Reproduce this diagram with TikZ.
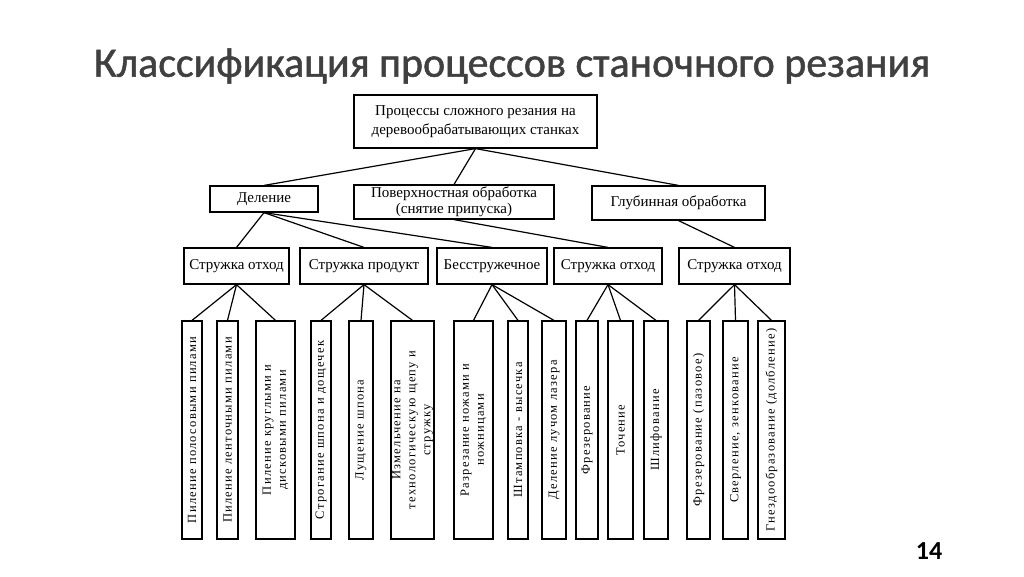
\documentclass[tikz,border=0pt]{standalone}
\usepackage{fontspec}
\setmainfont{Liberation Serif}
\newfontfamily\titlefont[FakeBold=1.2]{Carlito}
\newfontfamily\pagefont{Carlito}
\newfontfamily\leaffont[LetterSpace=10]{Liberation Serif}

\begin{document}
\begin{tikzpicture}[x=1pt,y=-1pt]
  \tikzset{box/.style={draw,line width=1.2pt,inner sep=1pt,align=center,
      font=\fontsize{15}{16}\selectfont},
    leaf/.style={draw,line width=1.2pt,rotate=90,minimum width=218pt,
      minimum height=#1,inner sep=1pt,align=center,
      font=\leaffont\fontsize{12.5}{15}\selectfont},
    link/.style={line width=1.2pt}}
  \useasboundingbox (0,0) rectangle (1024,576);
  \node[font=\titlefont\fontsize{42}{50}\selectfont,text=black!75] (title) at (512,66)
    {Классификация процессов станочного резания};
  \node[font=\pagefont\bfseries\fontsize{26}{30}\selectfont] (page) at (929,551) {14};
  \node[box,minimum width=243pt,minimum height=53pt] (root) at (475.5,121.5)
    {Процессы сложного резания на\\[3pt]деревообрабатывающих станках};
  \node[box,minimum width=108pt,minimum height=26pt] (cut) at (264,199) {Деление};
  \node[box,minimum width=200pt,minimum height=34pt] (surf) at (454,202)
    {Поверхностная обработка\\(снятие припуска)};
  \node[box,minimum width=173pt,minimum height=34pt] (deep) at (678.5,203) {Глубинная обработка};
  \node[box,minimum width=105pt,minimum height=36pt] (waste1) at (236.5,266) {Стружка отход};
  \node[box,minimum width=128pt,minimum height=36pt] (product) at (364,266) {Стружка продукт};
  \node[box,minimum width=110pt,minimum height=36pt] (nochip) at (492,266) {Бесстружечное};
  \node[box,minimum width=108pt,minimum height=36pt] (waste2) at (608,266) {Стружка отход};
  \node[box,minimum width=111pt,minimum height=36pt] (waste3) at (734.5,266) {Стружка отход};
  \node[leaf=20pt] (saw1) at (192,430) {Пиление полосовыми пилами};
  \node[leaf=21pt] (saw2) at (227.5,430) {Пиление ленточными пилами};
  \node[leaf=39pt] (saw3) at (275.5,430) {Пиление круглыми и\\дисковыми пилами};
  \node[leaf=20pt] (plane) at (321,430) {Строгание шпона и дощечек};
  \node[leaf=24pt] (peel) at (361,430) {Лущение шпона};
  \node[leaf=41pt] (chop) at (412.5,430) {Измельчение на\\технологическую щепу и\\стружку};
  \node[leaf=39pt] (knife) at (473.5,430) {Разрезание ножами и\\ножницами};
  \node[leaf=20pt] (stamp) at (518,430) {Штамповка - высечка};
  \node[leaf=24pt] (laser) at (554,430) {Деление лучом лазера};
  \node[leaf=22pt] (mill) at (587,430) {Фрезерование};
  \node[leaf=25pt] (turn) at (620.5,430) {Точение};
  \node[leaf=24pt] (grind) at (656,430) {Шлифование};
  \node[leaf=23pt] (slot) at (698.5,430) {Фрезерование (пазовое)};
  \node[leaf=25pt] (drill) at (735.5,430) {Сверление, зенкование};
  \node[leaf=27pt] (mortise) at (771.5,430) {Гнездообразование (долбление)};
  \foreach \n in {cut,surf,deep} \draw[link] (root.south) -- (\n.north);
  \foreach \n in {waste1,product,nochip} \draw[link] (cut.south) -- (\n.north);
  \draw[link] (surf.south) -- (waste2.north);
  \draw[link] (deep.south) -- (waste3.north);
  \foreach \n in {saw1,saw2,saw3} \draw[link] (waste1.south) -- (\n.east);
  \foreach \n in {plane,peel,chop} \draw[link] (product.south) -- (\n.east);
  \foreach \n in {knife,stamp,laser} \draw[link] (nochip.south) -- (\n.east);
  \foreach \n in {mill,turn,grind} \draw[link] (waste2.south) -- (\n.east);
  \foreach \n in {slot,drill,mortise} \draw[link] (waste3.south) -- (\n.east);
\end{tikzpicture}
\end{document}
